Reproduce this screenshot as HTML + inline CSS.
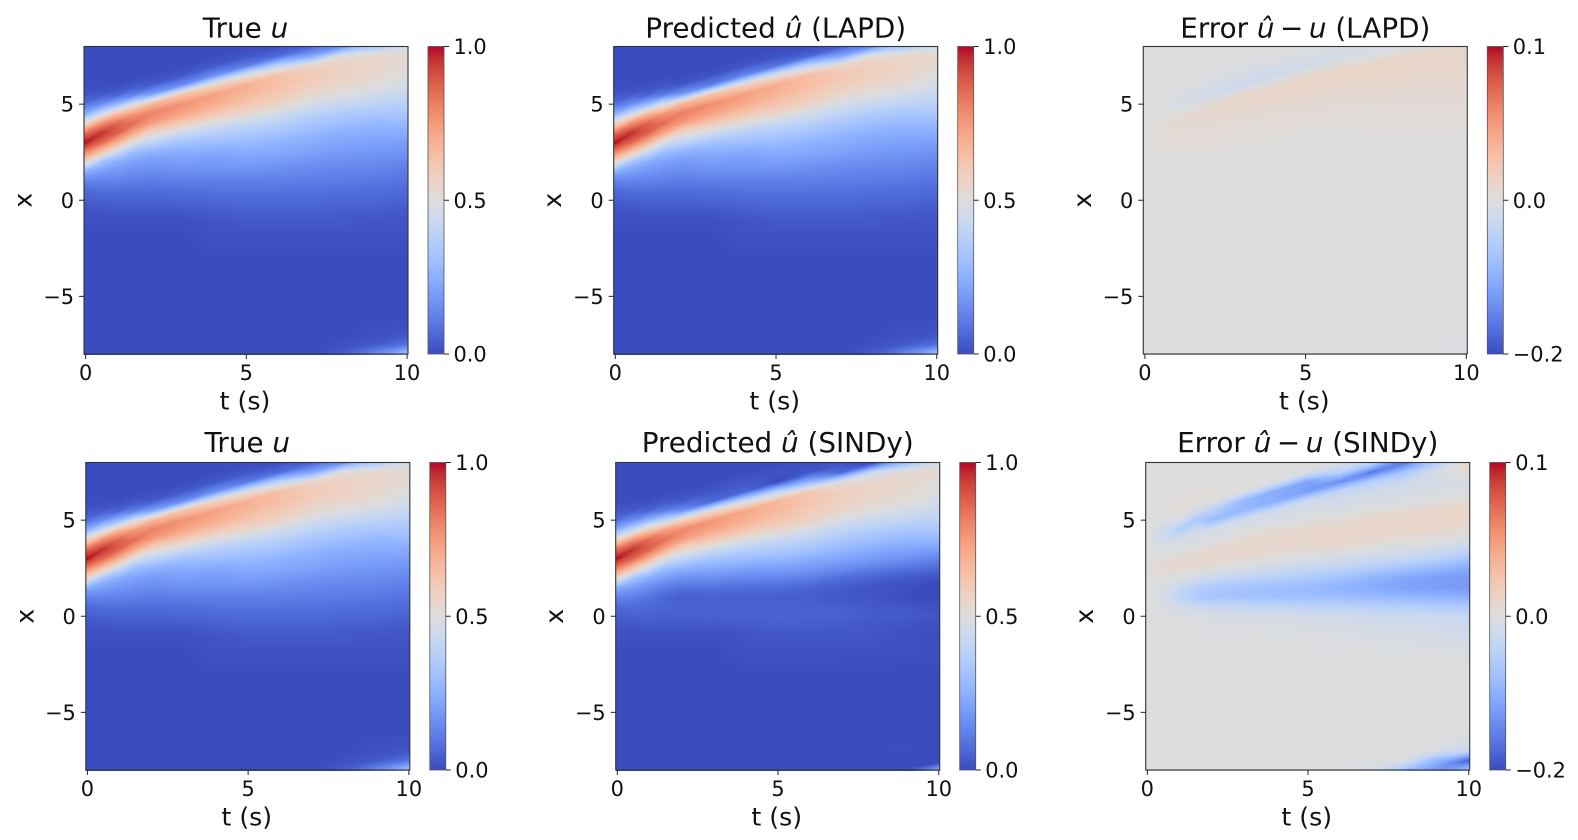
<!DOCTYPE html>
<html>
<head>
<meta charset="utf-8">
<title>True vs predicted heatmaps</title>
<style>
html,body{margin:0;padding:0;background:#fff;width:1578px;height:840px;overflow:hidden}
#stage{position:relative;width:1578px;height:840px}
canvas{position:absolute;display:block}
svg{position:absolute;left:0;top:0}
text{font-family:"DejaVu Sans","Liberation Sans",sans-serif;fill:#111}
.title{font-size:27.8px;text-anchor:middle}
.label{font-size:25.2px;text-anchor:middle}
.oblique{font-style:italic}
</style>
</head>
<body>
<div id="stage">
<svg id="overlay" width="1578" height="840" viewBox="0 0 1578 840">
<defs><linearGradient id="coolwarm-gradient" x1="0" y1="1" x2="0" y2="0"></linearGradient></defs>
<text class="title" x="245.5" y="37.3">True <tspan class="oblique">u</tspan></text>
<text class="title" x="771" y="37.3" transform="translate(4.7 0)">Predicted <tspan class="oblique">û</tspan> (LAPD)</text>
<text class="title" x="1305.3" y="37.3">Error <tspan class="oblique">û</tspan>&#8201;−&#8201;<tspan class="oblique">u</tspan> (LAPD)</text>
<text class="title" x="247.3" y="452">True <tspan class="oblique">u</tspan></text>
<text class="title" x="777.7" y="452">Predicted <tspan class="oblique">û</tspan> (SINDy)</text>
<text class="title" x="1307.7" y="452">Error <tspan class="oblique">û</tspan>&#8201;−&#8201;<tspan class="oblique">u</tspan> (SINDy)</text>
<text class="label" x="245" y="409.5">t (s)</text>
<text class="label" x="774.7" y="409.5">t (s)</text>
<text class="label" x="1304.3" y="409.5">t (s)</text>
<text class="label" x="246.8" y="825.5">t (s)</text>
<text class="label" x="776.7" y="825.5">t (s)</text>
<text class="label" x="1306.7" y="825.5">t (s)</text>
<text class="label" transform="translate(31.5 200.3) rotate(-90)">x</text>
<text class="label" transform="translate(561.2 200.3) rotate(-90)">x</text>
<text class="label" transform="translate(1090.8 200.3) rotate(-90)">x</text>
<text class="label" transform="translate(33.3 616.3) rotate(-90)">x</text>
<text class="label" transform="translate(563.2 616.3) rotate(-90)">x</text>
<text class="label" transform="translate(1093.2 616.3) rotate(-90)">x</text>
</svg>
</div>
<script>
// Sample coordinates of the field
const tValues = [0,0.5,1,1.5,2,3,4,5,6,7,8,9,10];
const xValues = [-8,-7.5,-7,-6,-5,-4,-3,-2,-1,-0.5,0,0.5,1,1.5,2,2.5,3,3.5,4,4.5,5,5.5,6,6.5,7,7.5,8];

// Position of the travelling crest at each tValues entry
const crestX = [3,3.4,3.7,4.05,4.35,4.85,5.35,5.9,6.25,6.6,6.95,7.2,7.45];

// True u in hundredths: one row per tValues entry, one value per xValues entry
const trueU = [
[0,0,0,0,0,0,0,0,1,2,4,7,13,25,55,80,100,85,55,25,8,2,0,0,0,0,0],
[0,0,0,0,0,0,0,0,1,2,5,8,13,20,32,62,86,96,78,44,16,3,0,0,0,0,0],
[0,0,0,0,0,0,0,0,1,3,5,8,13,18,24,43,68,88,87,66,28,5,0,0,0,0,0],
[0,0,0,0,0,0,0,0,1,3,5,8,12,16,21,29,48,71,85,75,48,11,2,0,0,0,0],
[0,0,0,0,0,0,0,0,1,3,5,8,11,15,19,26,40,55,75,81,66,20,3,0,0,0,0],
[0,0,0,0,0,0,0,0,1,3,6,8,12,16,20,24,32,44,60,72,77,63,15,3,0,0,0],
[0,0,0,0,0,0,0,1,2,4,6,9,12,16,19,23,30,37,49,62,70,73,56,16,3,0,0],
[0,0,0,0,0,0,0,1,3,5,7,9,12,16,20,24,29,35,42,54,62,67,69,50,11,2,0],
[0,0,0,0,0,0,0,1,3,5,7,9,12,15,19,23,26,32,38,46,56,60,64,64,40,7,1],
[0,0,0,0,0,0,0,1,3,5,7,9,11,14,17,21,24,28,33,39,47,54,58,60,55,22,5],
[4,1,0,0,0,0,0,1,3,4,6,8,11,13,16,19,22,25,30,35,42,49,54,57,57,52,15],
[15,3,1,0,0,0,0,1,2,4,6,8,10,13,15,18,21,24,28,33,39,46,51,54,55,54,34],
[33,9,2,0,0,0,0,1,2,3,5,7,9,11,14,17,20,24,28,33,38,42,46,49,52,53,46]
];

// LAPD error in thousandths
const lapdError = [
[0,0,0,0,0,0,0,0,0,0,0,0,0,0,0,0,0,0,0,0,0,0,0,0,0,0,0],
[0,0,0,0,0,0,0,0,0,0,0,0,0,0,0,1,3,4,3,-2,-3,-1,0,0,0,0,0],
[0,0,0,0,0,0,0,0,0,0,0,0,0,0,0,1,3,4,5,4,-8,-4,-1,0,0,0,0],
[0,0,0,0,0,0,0,0,0,0,0,0,0,0,0,1,2,3,5,7,-8,-12,-3,0,0,0,0],
[0,0,0,0,0,0,0,0,0,0,0,0,0,0,0,1,2,3,5,8,6,-20,-8,-2,0,0,0],
[0,0,0,0,0,0,0,0,0,0,0,0,0,0,0,0,1,3,4,6,9,8,-24,-12,-3,0,0],
[0,0,0,0,0,0,0,0,0,0,0,0,0,0,0,0,1,2,3,4,7,10,6,-24,-10,-2,0],
[0,0,0,0,0,0,0,0,0,0,0,0,0,0,0,0,1,1,3,4,5,8,11,8,-20,-7,-2],
[0,0,0,0,0,0,0,0,0,0,0,0,0,0,0,0,1,1,2,3,5,6,8,11,6,-16,-5],
[0,0,0,0,0,0,0,0,0,0,0,0,0,0,0,0,0,1,2,3,4,6,8,10,11,-3,-12],
[-1,0,0,0,0,0,0,0,0,0,0,0,0,0,0,0,0,1,2,3,4,5,7,9,10,10,-6],
[-4,-2,0,0,0,0,0,0,0,0,0,0,0,0,0,0,0,1,2,3,4,5,6,8,9,10,3],
[-3,-8,-2,0,0,0,0,0,0,0,0,0,0,0,0,0,0,1,2,3,4,5,6,7,8,9,8]
];

// SINDy error in thousandths
const sindyError = [
[0,0,0,0,0,0,0,0,0,0,0,0,0,0,1,2,1,0,0,0,0,0,0,0,0,0,0],
[0,0,0,0,0,0,0,0,0,0,-2,-5,-10,-8,1,6,4,-4,-20,-22,-3,2,1,0,0,0,0],
[0,0,0,0,0,0,0,0,0,-1,-5,-16,-40,-30,-2,7,7,-4,-12,-55,-8,3,1,0,0,0,0],
[0,0,0,0,0,0,0,0,-1,-3,-8,-25,-60,-50,-15,5,8,3,-8,-20,-68,-8,3,1,0,0,0],
[0,0,0,0,0,0,0,0,-2,-4,-10,-30,-70,-62,-25,2,8,7,-3,-12,-85,-45,2,2,0,0,0],
[0,0,0,0,0,0,0,0,-3,-5,-12,-35,-75,-72,-40,-8,6,9,6,-5,-14,-88,-88,-2,1,0,0],
[0,0,0,0,0,0,0,-1,-3,-7,-14,-38,-78,-80,-50,-20,1,8,9,5,-6,-18,-105,-105,-5,1,0],
[0,0,0,0,0,0,0,-1,-4,-8,-16,-42,-80,-85,-62,-35,-8,6,9,8,2,-12,-22,-120,-115,-6,0],
[-3,0,0,0,0,0,0,-2,-6,-12,-20,-45,-82,-95,-75,-42,-14,4,9,9,5,-5,-18,-35,-140,-45,-3],
[-15,-1,0,0,0,0,0,-2,-8,-15,-24,-48,-85,-105,-95,-55,-25,-4,7,10,9,2,-10,-20,-50,-160,-30],
[-75,-6,0,0,0,0,0,-3,-10,-18,-26,-52,-90,-115,-110,-72,-32,-10,4,9,10,6,-5,-14,-25,-70,-160],
[-130,-90,-6,0,0,0,0,-4,-12,-20,-28,-58,-95,-120,-120,-90,-45,-20,1,8,10,9,2,-8,-14,-10,-55],
[-70,-180,-25,-1,0,0,0,-5,-18,-25,-30,-60,-100,-125,-125,-105,-70,-35,-6,5,10,11,6,-6,-12,5,12]
];

// Tick labels
const tTicks = [0,5,10];
const xTicks = [-5,0,5];
const valueTicks = [0,0.5,1];
const errorTicks = [-0.2,0,0.1];

// Coolwarm colormap anchors
const coolwarm = [
[59,76,192],[68,90,204],[77,104,215],[87,117,225],[98,130,234],[108,142,241],[119,154,247],[130,165,251],
[141,176,254],[152,185,255],[163,194,255],[174,201,253],[184,208,249],[194,213,244],[204,217,238],[213,219,230],
[221,221,221],[229,216,209],[236,211,197],[241,204,185],[245,196,173],[247,187,160],[247,177,148],[247,166,135],
[244,154,123],[241,141,111],[236,127,99],[229,112,88],[222,96,77],[213,80,66],[203,62,56],[192,40,47],[180,4,38]
];

const NS = 'http://www.w3.org/2000/svg';
const svg = document.getElementById('overlay');
const stage = document.getElementById('stage');
const PLOT_W = 324, PLOT_H = 307.5, BAR_GAP = 344, BAR_W = 16;
const T_MIN = -0.05, T_MAX = 10.03, X_MIN = -8, X_MAX = 8;

function colorAt(v){
  const c = Math.min(1, Math.max(0, v)) * (coolwarm.length - 1);
  const i = Math.min(coolwarm.length - 2, Math.floor(c));
  const f = c - i;
  return [0,1,2].map(function(k){ return coolwarm[i][k] + (coolwarm[i+1][k] - coolwarm[i][k]) * f; });
}
function normValue(v){ return v; }
function normError(e){ return e >= 0 ? 0.5 + 0.5 * e / 0.1 : 0.5 + 0.5 * e / 0.2; }

function locate(axis, v){
  let i = 0;
  while (i < axis.length - 2 && v > axis[i+1]) i++;
  const f = Math.min(1, Math.max(0, (v - axis[i]) / (axis[i+1] - axis[i])));
  return [i, f];
}

function predictedField(errors){
  return function(ti, xi){ return trueU[ti][xi] / 100 + errors[ti][xi] / 1000; };
}
function errorField(errors){
  return function(ti, xi){ return errors[ti][xi] / 1000; };
}
function trueField(){
  return function(ti, xi){ return trueU[ti][xi] / 100; };
}

// How strongly a height follows the crest between two time columns
function followWeight(x){
  if (x < -6) return 1;
  return Math.min(1, Math.max(0, (x - 0.5) / 2));
}
function readColumn(field, ti, x){
  const b = locate(xValues, x);
  const lo = field(ti, b[0]), hi = field(ti, b[0] + 1);
  return lo + (hi - lo) * b[1];
}
function sample(field, t, x){
  const a = locate(tValues, t);
  const i = a[0], f = a[1];
  const shift = (crestX[i+1] - crestX[i]) * followWeight(x);
  const before = readColumn(field, i, x - f * shift);
  const after = readColumn(field, i + 1, x + (1 - f) * shift);
  return before + (after - before) * f;
}

function line(parent, x1, y1, x2, y2){
  const el = document.createElementNS(NS, 'line');
  el.setAttribute('x1', x1);
  el.setAttribute('y1', y1);
  el.setAttribute('x2', x2);
  el.setAttribute('y2', y2);
  el.setAttribute('stroke', '#222');
  el.setAttribute('stroke-width', '1');
  parent.appendChild(el);
  return el;
}
function label(parent, x, y, str, anchor){
  const el = document.createElementNS(NS, 'text');
  el.setAttribute('x', x);
  el.setAttribute('y', y);
  el.setAttribute('font-size', '20.9');
  el.setAttribute('text-anchor', anchor);
  el.textContent = str;
  parent.appendChild(el);
  return el;
}
function fmt(v){ return String(v).replace('-', '\u2212'); }

const stops = document.getElementById('coolwarm-gradient');
coolwarm.forEach(function(c, i){
  const s = document.createElementNS(NS, 'stop');
  s.setAttribute('offset', i / (coolwarm.length - 1));
  s.setAttribute('stop-color', 'rgb(' + c.join(',') + ')');
  stops.appendChild(s);
});

function drawPanel(name, left, top, field, norm, barTicks){
  const tPx = function(t){ return left + (t - T_MIN) / (T_MAX - T_MIN) * PLOT_W; };
  const xPx = function(x){ return top + (X_MAX - x) / (X_MAX - X_MIN) * PLOT_H; };

  const canvas = document.createElement('canvas');
  
  
  const cl = Math.round(left), ct = Math.round(top);
  const cw = PLOT_W, ch = Math.round(PLOT_H);
  canvas.width = cw;
  canvas.height = ch;
  canvas.style.left = cl + 'px';
  canvas.style.top = ct + 'px';
  stage.insertBefore(canvas, svg);
  const ctx = canvas.getContext('2d');
  const img = ctx.createImageData(cw, ch);
  for (let py = 0; py < ch; py++){
    const x = X_MAX - ((ct + py + 0.5 - top) / PLOT_H) * (X_MAX - X_MIN);
    for (let px = 0; px < cw; px++){
      const t = T_MIN + ((cl + px + 0.5 - left) / PLOT_W) * (T_MAX - T_MIN);
      const col = colorAt(norm(sample(field, t, x)));
      const o = (py * cw + px) * 4;
      img.data[o] = col[0];
      img.data[o+1] = col[1];
      img.data[o+2] = col[2];
      img.data[o+3] = 255;
    }
  }
  ctx.putImageData(img, 0, 0);

  const g = document.createElementNS(NS, 'g');
  
  
  svg.appendChild(g);

  const frame = document.createElementNS(NS, 'rect');
  frame.setAttribute('x', left);
  frame.setAttribute('y', top);
  frame.setAttribute('width', PLOT_W);
  frame.setAttribute('height', PLOT_H);
  frame.setAttribute('fill', 'none');
  frame.setAttribute('stroke', '#333');
  frame.setAttribute('stroke-width', '1.1');
  
  
  g.appendChild(frame);

  tTicks.forEach(function(t){
    const px = tPx(t), bottom = top + PLOT_H;
    const mark = line(g, px, bottom, px, bottom + 5);
    
    
    const txt = label(g, px, bottom + 26, fmt(t), 'middle');
    
    
  });
  xTicks.forEach(function(x){
    const py = xPx(x);
    const mark = line(g, left - 5, py, left, py);
    
    
    const txt = label(g, left - 10, py + 7.5, fmt(x), 'end');
    
    
  });

  const barX = left + BAR_GAP;
  const bar = document.createElementNS(NS, 'rect');
  bar.setAttribute('x', barX);
  bar.setAttribute('y', top);
  bar.setAttribute('width', BAR_W);
  bar.setAttribute('height', PLOT_H);
  bar.setAttribute('fill', 'url(#coolwarm-gradient)');
  bar.setAttribute('stroke', '#555');
  bar.setAttribute('stroke-width', '0.8');
  
  
  g.appendChild(bar);
  barTicks.forEach(function(v){
    const py = top + (1 - norm(v)) * PLOT_H;
    const mark = line(g, barX + BAR_W, py, barX + BAR_W + 5, py);
    
    
    const txt = label(g, barX + BAR_W + 9.5, py + 7.5, fmt(v.toFixed(1)), 'start');
    
    
  });
}

drawPanel('true-u-top', 84, 46.5, trueField(), normValue, valueTicks);
drawPanel('predicted-lapd', 613.7, 46.5, predictedField(lapdError), normValue, valueTicks);
drawPanel('error-lapd', 1143.3, 46.5, errorField(lapdError), normError, errorTicks);
drawPanel('true-u-bottom', 85.8, 462.5, trueField(), normValue, valueTicks);
drawPanel('predicted-sindy', 615.7, 462.5, predictedField(sindyError), normValue, valueTicks);
drawPanel('error-sindy', 1145.7, 462.5, errorField(sindyError), normError, errorTicks);
</script>
</body>
</html>
